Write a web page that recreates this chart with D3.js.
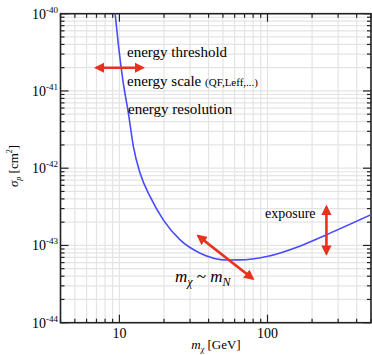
<!DOCTYPE html>
<html lang="en">
<head>
    <meta charset="UTF-8">
    <title>sigma vs mass</title>
    <style>
        body{ margin:0; background:#fff; }
        svg text{ font-family:"Liberation Serif", serif; }
    </style>
    <script src="https://cdn.jsdelivr.net/npm/d3@7"></script>
</head>
<body>
<div id="container"></div>
</body>
<script>
    // curve (WIMP mass in GeV, cross section in cm^2)
    var massVals  = [9.35, 9.88, 10.54, 11.5, 12.43, 13.8, 16.12, 19.83, 25.8, 35.1, 53.2, 65, 99, 165, 251, 500];
    var sigmaVals = [1e-40, 3.7e-41, 1.39e-41, 5.14e-42, 1.9e-42, 8.6e-43, 4.28e-43, 2.13e-43, 1.17e-43, 7.94e-44, 6.49e-44, 6.5e-44, 7.2e-44, 9.8e-44, 1.38e-43, 2.5e-43];
    // arrows: [m1, s1, m2, s2]
    var arrowThreshold = [6.96, 2.0e-41, 14.4, 2.0e-41];
    var arrowMass      = [34, 1.33e-43, 79.6, 3.7e-44];
    var arrowExposure  = [250, 3.16e-43, 250, 7.8e-44];
    var xTickLabels = [10, 100];
    var yTickLabels = [-44, -43, -42, -41, -40];

    var w = 372, h = 355,
        pLeft = 60.5, pRight = 371, pTop = 13.7, pBottom = 322.7;

    var xScale = d3.scaleLog().domain([4, 500]).range([pLeft, pRight]),
        yScale = d3.scaleLog().domain([1e-44, 1e-40]).range([pBottom, pTop]);

    var svg = d3.select('#container').append('svg').attr('width', w).attr('height', h);

    var defs = svg.append('defs');
    defs.append('marker').attr('id', 'head').attr('viewBox', '0 0 10 10')
        .attr('refX', 8).attr('refY', 5).attr('markerWidth', 4).attr('markerHeight', 4)
        .attr('orient', 'auto-start-reverse')
        .append('path').attr('d', 'M0,0 L10,5 L0,10 z').attr('fill', '#e8321e');
    defs.append('clipPath').attr('id', 'clip').append('rect')
        .attr('x', pLeft).attr('y', pTop).attr('width', pRight - pLeft).attr('height', pBottom - pTop);

    // tick values incl. minor ones
    var xTicks = [];
    [1, 10, 100].forEach(function (d) {
        for (var k = 1; k < 10; k++) { var v = d * k; if (v >= 4 && v <= 500) xTicks.push(v); }
    });
    var yTicks = [];
    [-44, -43, -42, -41].forEach(function (e) {
        for (var k = 1; k < 10; k++) yTicks.push(k * Math.pow(10, e));
    });
    yTicks.push(1e-40);
    function isMajorX(v) { return v === 10 || v === 100; }
    function isMajorY(v) { return Math.abs(Math.log10(v) - Math.round(Math.log10(v))) < 1e-6; }

    // grid
    var grid = svg.append('g').attr('stroke', '#e4e4e4').attr('stroke-width', 1.2);
    grid.selectAll('line.gx').data(xTicks).enter().append('line')
        .attr('x1', function (d) { return xScale(d); }).attr('x2', function (d) { return xScale(d); })
        .attr('y1', pTop).attr('y2', pBottom);
    grid.selectAll('line.gy').data(yTicks).enter().append('line')
        .attr('y1', function (d) { return yScale(d); }).attr('y2', function (d) { return yScale(d); })
        .attr('x1', pLeft).attr('x2', pRight);

    // ticks on all four sides
    var axes = svg.append('g').attr('stroke', '#222').attr('stroke-width', 1.2);
    xTicks.forEach(function (v) {
        var len = isMajorX(v) ? 8 : 4, x = xScale(v);
        axes.append('line').attr('x1', x).attr('x2', x).attr('y1', pBottom).attr('y2', pBottom - len);
        axes.append('line').attr('x1', x).attr('x2', x).attr('y1', pTop).attr('y2', pTop + len);
    });
    yTicks.forEach(function (v) {
        var len = isMajorY(v) ? 8 : 4, y = yScale(v);
        axes.append('line').attr('y1', y).attr('y2', y).attr('x1', pLeft).attr('x2', pLeft + len);
        axes.append('line').attr('y1', y).attr('y2', y).attr('x1', pRight).attr('x2', pRight - len);
    });
    svg.append('rect').attr('x', pLeft).attr('y', pTop).attr('width', pRight - pLeft).attr('height', pBottom - pTop)
        .attr('fill', 'none').attr('stroke', '#222').attr('stroke-width', 1.6);

    // tick labels
    svg.selectAll('text.xl').data(xTickLabels).enter().append('text')
        .attr('x', function (d) { return xScale(d); }).attr('y', 338)
        .attr('text-anchor', 'middle').attr('font-size', 14).text(function (d) { return d; });
    var yl = svg.selectAll('text.yl').data(yTickLabels).enter().append('text')
        .attr('x', 32).attr('y', function (d) { return yScale(Math.pow(10, d)) + 5; })
        .attr('font-size', 14);
    yl.append('tspan').text('10');
    yl.append('tspan').attr('dy', -6).attr('font-size', 9).text(function (d) { return '-' + (-d); });

    // axis titles
    var xt = svg.append('text').attr('x', 216).attr('y', 349).attr('text-anchor', 'middle').attr('font-size', 13);
    xt.append('tspan').attr('font-style', 'italic').text('m');
    xt.append('tspan').attr('dy', 3).attr('font-size', 8).attr('font-style', 'italic').text('\u03c7');
    xt.append('tspan').attr('dy', -3).text(' [GeV]');

    var yt = svg.append('text').attr('transform', 'translate(18,166) rotate(-90)')
        .attr('text-anchor', 'middle').attr('font-size', 13);
    yt.append('tspan').attr('font-style', 'italic').text('\u03c3');
    yt.append('tspan').attr('dy', 3).attr('font-size', 8).attr('font-style', 'italic').text('p');
    yt.append('tspan').attr('dy', -3).text(' [cm');
    yt.append('tspan').attr('dy', -6).attr('font-size', 8).text('2');
    yt.append('tspan').attr('dy', 6).text(']');

    // curve
    var pts = massVals.map(function (m, i) { return [m, sigmaVals[i]]; });
    var line = d3.line().x(function (d) { return xScale(d[0]); }).y(function (d) { return yScale(d[1]); })
        .curve(d3.curveMonotoneX);
    svg.append('path').datum(pts).attr('clip-path', 'url(#clip)')
        .attr('d', line).attr('fill', 'none').attr('stroke', '#4a4aff').attr('stroke-width', 1.6);

    // arrows
    [arrowThreshold, arrowMass, arrowExposure].forEach(function (a) {
        svg.append('line')
            .attr('x1', xScale(a[0])).attr('y1', yScale(a[1]))
            .attr('x2', xScale(a[2])).attr('y2', yScale(a[3]))
            .attr('stroke', '#e8321e').attr('stroke-width', 2.6)
            .attr('marker-start', 'url(#head)').attr('marker-end', 'url(#head)');
    });

    // annotations
    function label(x, y, txt, size) {
        return svg.append('text').attr('x', x).attr('y', y).attr('font-size', size || 15).text(txt);
    }
    label(127, 57, 'energy threshold');
    var es = label(127, 86, 'energy scale ');
    es.append('tspan').attr('font-size', 11).text('(QF,Leff,...)');
    label(128, 114, 'energy resolution');
    label(265, 218, 'exposure', 14);

    var mm = svg.append('text').attr('x', 175).attr('y', 282).attr('font-size', 17).attr('font-style', 'italic');
    mm.append('tspan').text('m');
    mm.append('tspan').attr('dy', 4).attr('font-size', 12).text('\u03c7');
    mm.append('tspan').attr('dy', -4).attr('font-style', 'normal').text(' ~ ');
    mm.append('tspan').text('m');
    mm.append('tspan').attr('dy', 4).attr('font-size', 12).text('N');
</script>
</html>
